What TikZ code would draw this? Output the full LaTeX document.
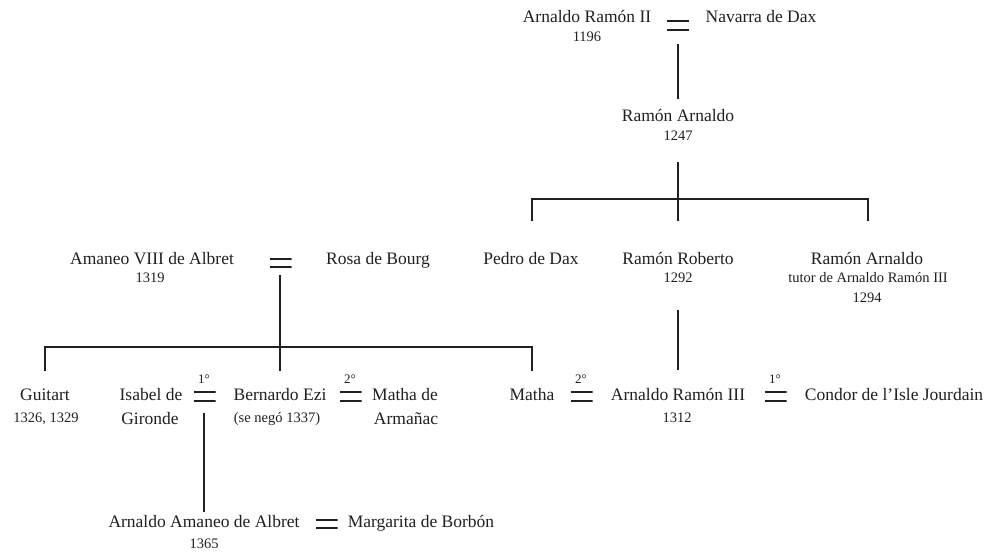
\documentclass[tikz,border=0pt]{standalone}
\usepackage{fontspec}
\setmainfont{Liberation Serif}
\definecolor{ink}{RGB}{35,31,32}
\begin{document}
\begin{tikzpicture}[x=1pt,y=-1pt,
  nm/.style={anchor=base,inner sep=0pt,font=\fontsize{17.5}{20}\selectfont,text=ink},
  dt/.style={anchor=base,inner sep=0pt,font=\fontsize{14.5}{17}\selectfont,text=ink},
  supm/.style={anchor=base,inner sep=0pt,font=\fontsize{13}{15}\selectfont,text=ink},
  eqm/.style={inner sep=0pt,minimum width=22pt,minimum height=14pt,
    path picture={\draw[ink,line width=1.9pt]
      ([yshift=4.2pt]path picture bounding box.west) -- ([yshift=4.2pt]path picture bounding box.east)
      ([yshift=-4.2pt]path picture bounding box.west) -- ([yshift=-4.2pt]path picture bounding box.east);}},
  ln/.style={draw=ink,line width=1.9pt,line join=miter}]
\fill[white] (0,0) rectangle (990,552);
\useasboundingbox (0,0) rectangle (990,552);

% generation 1
\node[nm] (arII) at (587,22) {Arnaldo Ramón II};
\node[dt] (arIId) at (587,41) {1196};
\node[eqm] (e1) at (678,25.5) {};
\node[nm] (nav) at (761,22) {Navarra de Dax};
\coordinate (e1a) at (678,44);
\coordinate (e1b) at (678,99);
\draw[ln] (e1a) -- (e1b);

% generation 2
\node[nm] (ra1) at (678,121) {Ramón Arnaldo};
\node[dt] (ra1d) at (678,140) {1247};
\coordinate (t1) at (678,162);
\coordinate (j1) at (678,199);
\coordinate (l1) at (532,221);
\coordinate (m1) at (678,221);
\coordinate (r1) at (868,221);
\draw[ln] (t1) -- (m1);
\draw[ln] (l1) |- (j1) -| (r1);

% generation 3
\node[nm] (pd) at (531,264) {Pedro de Dax};
\node[nm] (rr) at (678,264) {Ramón Roberto};
\node[dt] (rrd) at (678,282) {1292};
\node[nm] (ra2) at (867,264) {Ramón Arnaldo};
\node[dt] (ra2t) at (868,282) {tutor de Arnaldo Ramón III};
\node[dt] (ra2d) at (867,302) {1294};
\coordinate (rra) at (678,310);
\coordinate (rrb) at (678,370);
\draw[ln] (rra) -- (rrb);

\node[nm] (am) at (152,264) {Amaneo VIII de Albret};
\node[dt] (amd) at (150,282) {1319};
\node[eqm] (e2) at (280.5,263) {};
\node[nm] (rb) at (378,264) {Rosa de Bourg};
\coordinate (t2) at (280,275);
\coordinate (j2) at (280,347);
\coordinate (l2) at (45,371);
\coordinate (m2) at (280,371);
\coordinate (r2) at (532,371);
\draw[ln] (t2) -- (m2);
\draw[ln] (l2) |- (j2) -| (r2);

% generation 4
\node[nm] (gu) at (45,400) {Guitart};
\node[dt] (gud) at (46,422) {1326, 1329};
\node[nm] (is) at (151,400) {Isabel de};
\node[nm] (is2) at (150,424) {Gironde};
\node[supm] (s1) at (204,383) {1°};
\node[eqm] (e3) at (204.5,396.5) {};
\node[nm] (be) at (280,400) {Bernardo Ezi};
\node[dt] (bed) at (277,422) {(se negó 1337)};
\node[supm] (s2) at (350,383) {2°};
\node[eqm] (e4) at (350.5,396.5) {};
\node[nm] (ma) at (405,400) {Matha de};
\node[nm] (ma2) at (406,424) {Armañac};

\node[nm] (mt) at (532,400) {Matha};
\node[supm] (s3) at (581,383) {2°};
\node[eqm] (e5) at (581.5,396.5) {};
\node[nm] (ar3) at (678,400) {Arnaldo Ramón III};
\node[dt] (ar3d) at (677,422) {1312};
\node[supm] (s4) at (775,383) {1°};
\node[eqm] (e6) at (775.5,396.5) {};
\node[nm] (co) at (894,400) {Condor de l’Isle Jourdain};

\coordinate (e3a) at (204,413);
\coordinate (e3b) at (204,512);
\draw[ln] (e3a) -- (e3b);

% generation 5
\node[nm] (aa) at (204,527) {Arnaldo Amaneo de Albret};
\node[dt] (aad) at (204,548) {1365};
\node[eqm] (e7) at (326.5,524) {};
\node[nm] (mb) at (421,527) {Margarita de Borbón};
\end{tikzpicture}
\end{document}
